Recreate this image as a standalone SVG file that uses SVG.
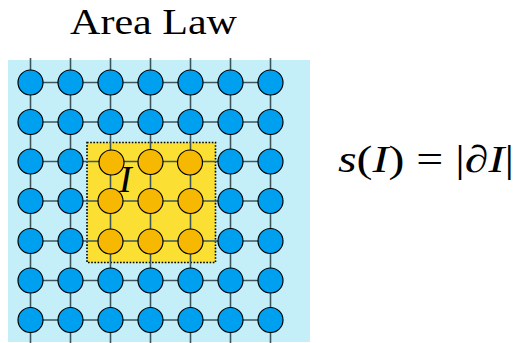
<svg xmlns="http://www.w3.org/2000/svg" width="521" height="343" viewBox="0 0 521 343">
<style>
.bg{fill:#c4eff9}
.region{fill:#fbe033;stroke:#000;stroke-width:1.6;stroke-dasharray:1.6 1.6}
.edge{stroke:#3e555c;stroke-width:1.6;fill:none}
.site{fill:#00a0f0;stroke:#000;stroke-width:1.2}
.in{fill:#f6b800;stroke:#000;stroke-width:1.2}
text{font-family:'Liberation Serif','Times New Roman',serif;font-weight:normal;fill:#000}
.it{font-style:italic}
</style>
<rect class="bg" x="8" y="60" width="302" height="282"/>
<rect id="region-I" class="region" x="87" y="142.5" width="128.5" height="120"/>
<g id="connectors">
<path class="edge" d="M30.5,58V343M70.5,58V343M110.5,58V343M150.5,58V343M190.5,58V343M230.5,58V343M270.5,58V343"/>
<path class="edge" d="M30.5,82.5H270.5M30.5,122H270.5M30.5,161.5H270.5M30.5,201H270.5M30.5,241H270.5M30.5,280.5H270.5M30.5,320H270.5"/>
</g>
<g id="nodes">
<g id="n0-0"><circle class="site" cx="30.5" cy="82.5" r="12.5"/></g>
<g id="n0-1"><circle class="site" cx="70.5" cy="82.5" r="12.5"/></g>
<g id="n0-2"><circle class="site" cx="110.5" cy="82.5" r="12.5"/></g>
<g id="n0-3"><circle class="site" cx="150.5" cy="82.5" r="12.5"/></g>
<g id="n0-4"><circle class="site" cx="190.5" cy="82.5" r="12.5"/></g>
<g id="n0-5"><circle class="site" cx="230.5" cy="82.5" r="12.5"/></g>
<g id="n0-6"><circle class="site" cx="270.5" cy="82.5" r="12.5"/></g>
<g id="n1-0"><circle class="site" cx="30.5" cy="122" r="12.5"/></g>
<g id="n1-1"><circle class="site" cx="70.5" cy="122" r="12.5"/></g>
<g id="n1-2"><circle class="site" cx="110.5" cy="122" r="12.5"/></g>
<g id="n1-3"><circle class="site" cx="150.5" cy="122" r="12.5"/></g>
<g id="n1-4"><circle class="site" cx="190.5" cy="122" r="12.5"/></g>
<g id="n1-5"><circle class="site" cx="230.5" cy="122" r="12.5"/></g>
<g id="n1-6"><circle class="site" cx="270.5" cy="122" r="12.5"/></g>
<g id="n2-0"><circle class="site" cx="30.5" cy="161.5" r="12.5"/></g>
<g id="n2-1"><circle class="site" cx="70.5" cy="161.5" r="12.5"/></g>
<g id="n2-2"><circle class="in" cx="111.5" cy="162.5" r="12.5"/></g>
<g id="n2-3"><circle class="in" cx="150.5" cy="162" r="12.5"/></g>
<g id="n2-4"><circle class="in" cx="190" cy="162.5" r="12.5"/></g>
<g id="n2-5"><circle class="site" cx="230.5" cy="161.5" r="12.5"/></g>
<g id="n2-6"><circle class="site" cx="270.5" cy="161.5" r="12.5"/></g>
<g id="n3-0"><circle class="site" cx="30.5" cy="201" r="12.5"/></g>
<g id="n3-1"><circle class="site" cx="70.5" cy="201" r="12.5"/></g>
<g id="n3-2"><circle class="in" cx="110.5" cy="201" r="12.5"/></g>
<g id="n3-3"><circle class="in" cx="150.5" cy="201" r="12.5"/></g>
<g id="n3-4"><circle class="in" cx="190.5" cy="201" r="12.5"/></g>
<g id="n3-5"><circle class="site" cx="230.5" cy="201" r="12.5"/></g>
<g id="n3-6"><circle class="site" cx="270.5" cy="201" r="12.5"/></g>
<g id="n4-0"><circle class="site" cx="30.5" cy="241" r="12.5"/></g>
<g id="n4-1"><circle class="site" cx="70.5" cy="241" r="12.5"/></g>
<g id="n4-2"><circle class="in" cx="110.5" cy="241.5" r="12.5"/></g>
<g id="n4-3"><circle class="in" cx="150.5" cy="241.5" r="12.5"/></g>
<g id="n4-4"><circle class="in" cx="190.5" cy="241.5" r="12.5"/></g>
<g id="n4-5"><circle class="site" cx="230.5" cy="241" r="12.5"/></g>
<g id="n4-6"><circle class="site" cx="270.5" cy="241" r="12.5"/></g>
<g id="n5-0"><circle class="site" cx="30.5" cy="280.5" r="12.5"/></g>
<g id="n5-1"><circle class="site" cx="70.5" cy="280.5" r="12.5"/></g>
<g id="n5-2"><circle class="site" cx="110.5" cy="280.5" r="12.5"/></g>
<g id="n5-3"><circle class="site" cx="150.5" cy="280.5" r="12.5"/></g>
<g id="n5-4"><circle class="site" cx="190.5" cy="280.5" r="12.5"/></g>
<g id="n5-5"><circle class="site" cx="230.5" cy="280.5" r="12.5"/></g>
<g id="n5-6"><circle class="site" cx="270.5" cy="280.5" r="12.5"/></g>
<g id="n6-0"><circle class="site" cx="30.5" cy="320" r="12.5"/></g>
<g id="n6-1"><circle class="site" cx="70.5" cy="320" r="12.5"/></g>
<g id="n6-2"><circle class="site" cx="110.5" cy="320" r="12.5"/></g>
<g id="n6-3"><circle class="site" cx="150.5" cy="320" r="12.5"/></g>
<g id="n6-4"><circle class="site" cx="190.5" cy="320" r="12.5"/></g>
<g id="n6-5"><circle class="site" cx="230.5" cy="320" r="12.5"/></g>
<g id="n6-6"><circle class="site" cx="270.5" cy="320" r="12.5"/></g>
</g>
<text id="label-I" class="it" x="119" y="192" font-size="38">I</text>
<text id="title" x="70" y="34" font-size="35" textLength="167" lengthAdjust="spacingAndGlyphs">Area Law</text>
<text id="formula" x="338" y="172" font-size="38" textLength="176" lengthAdjust="spacingAndGlyphs"><tspan class="it">s</tspan>(<tspan class="it">I</tspan>) = |∂<tspan class="it">I</tspan>|</text>
</svg>
